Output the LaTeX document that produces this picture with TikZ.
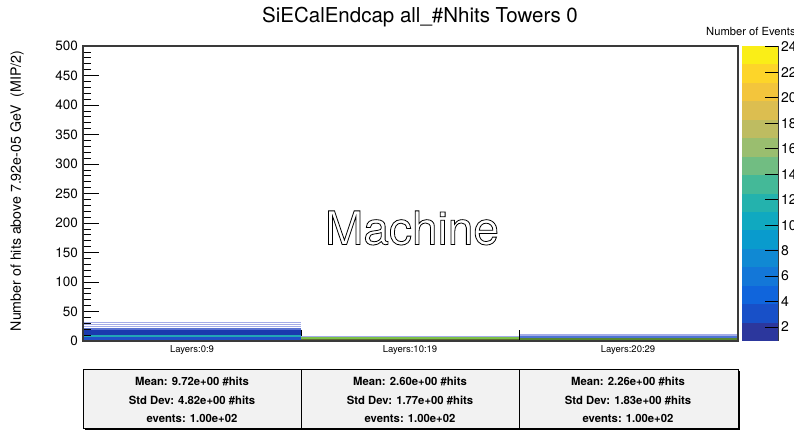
\documentclass[tikz,border=0pt]{standalone}
\usepackage{fontspec}
\setmainfont{TeX Gyre Heros}
\definecolor{frame}{HTML}{3A3A3A}
\definecolor{statfill}{HTML}{F2F2F2}
\definecolor{cb0}{rgb}{0.171,0.215,0.614}
\definecolor{cb1}{rgb}{0.096,0.312,0.784}
\definecolor{cb2}{rgb}{0.064,0.396,0.861}
\definecolor{cb3}{rgb}{0.073,0.468,0.846}
\definecolor{cb4}{rgb}{0.064,0.539,0.827}
\definecolor{cb5}{rgb}{0.037,0.607,0.803}
\definecolor{cb6}{rgb}{0.062,0.661,0.754}
\definecolor{cb7}{rgb}{0.141,0.699,0.680}
\definecolor{cb8}{rgb}{0.268,0.726,0.598}
\definecolor{cb9}{rgb}{0.443,0.741,0.510}
\definecolor{cb10}{rgb}{0.602,0.745,0.437}
\definecolor{cb11}{rgb}{0.746,0.737,0.379}
\definecolor{cb12}{rgb}{0.863,0.746,0.312}
\definecolor{cb13}{rgb}{0.951,0.773,0.235}
\definecolor{cb14}{rgb}{0.991,0.835,0.161}
\definecolor{cb15}{rgb}{0.981,0.934,0.089}
\definecolor{bdark}{HTML}{28308E}
\definecolor{bblue}{HTML}{1F50C8}
\definecolor{bteal}{HTML}{22A6B6}
\definecolor{bnavy}{HTML}{1A3AAE}
\definecolor{bmid}{HTML}{5A72D2}
\definecolor{blight}{HTML}{A4ACE8}
\definecolor{bgreen}{HTML}{7CC048}
\definecolor{bolive}{HTML}{5A6A30}
\tikzset{
  axisline/.style={draw=frame, line width=1.1pt},
  tickline/.style={draw=black, line width=0.8pt},
  ticklab/.style={font=\fontsize{13.5}{15}\selectfont, anchor=east, inner sep=0pt},
  binlab/.style={font=\fontsize{9.5}{11}\selectfont, inner sep=0pt},
  cblab/.style={font=\fontsize{14}{16}\selectfont, anchor=west, inner sep=0pt},
  stattext/.style={font=\bfseries\fontsize{11.3}{13}\selectfont, inner sep=0pt},
  statbox/.style={draw=black, line width=0.8pt, fill=statfill}
}
\begin{document}
\begin{tikzpicture}[x=1pt,y=-1pt]
\useasboundingbox (0,0) rectangle (794,433);
\fill[white] (0,0) rectangle (794,433);
% title
\node[font=\fontsize{20.5}{24}\selectfont, inner sep=0pt] (title) at (420,17) {SiECalEndcap all\_\#Nhits Towers 0};
% bars bin 1
\fill[bdark]  (83,339.5) rectangle (301,341);
\fill[bblue]  (83,337) rectangle (301,339.5);
\fill[bteal]  (83,335) rectangle (301,337);
\fill[bnavy]  (83,329.5) rectangle (301,335);
\fill[bmid]   (83,327.5) rectangle (301,329.5);
\fill[blight] (83,326) rectangle (301,327);
\fill[blight] (83,324) rectangle (301,325);
\fill[blight] (83,322.3) rectangle (301,323.2);
\draw[black, line width=0.8pt] (301,329.5) -- (301,341);
% bars bin 2
\fill[blight] (301,335.5) rectangle (519,337);
\fill[bgreen] (301,337) rectangle (519,339);
\fill[bolive] (301,339) rectangle (519,341);
% bars bin 3
\fill[blight] (519,333.5) rectangle (738,335.5);
\fill[bblue!80] (519,335.5) rectangle (738,338);
\fill[bgreen!70!black] (519,338) rectangle (738,339.5);
\fill[bolive] (519,339.5) rectangle (738,341);
\draw[black, line width=0.8pt] (519,330) -- (519,341);
% y ticks
\foreach \v in {0,10,...,500}{
  \pgfmathsetmacro{\yy}{341-\v*0.59}
  \pgfmathtruncatemacro{\m}{mod(\v,50)}
  \ifnum\m=0
    \draw[tickline] (83,\yy) -- (99,\yy);
  \else
    \draw[tickline] (83,\yy) -- (91,\yy);
  \fi
}
\foreach \v in {0,50,...,500}{
  \pgfmathsetmacro{\yy}{341-\v*0.59}
  \node[ticklab] (yl\v) at (78,\yy) {\v};
}
% frame
\draw[axisline] (83,46) rectangle (738,341);
% y axis title
\node[font=\fontsize{14.2}{16}\selectfont, rotate=90, inner sep=0pt] (ytitle) at (17,191) {Number of hits above 7.92e-05 GeV\ \ (MIP/2)};
% bin labels
\node[binlab] (b1) at (192,350) {Layers:0:9};
\node[binlab] (b2) at (410,350) {Layers:10:19};
\node[binlab] (b3) at (628,350) {Layers:20:29};
% watermark
\node[font=\fontsize{46}{50}\selectfont, inner sep=0pt] (mach) at (412,228)
  {\special{pdf:literal direct 1 Tr 0.8 w}Machine\special{pdf:literal direct 0 Tr}};
% colour bar
\foreach \k in {0,...,15}{
  \pgfmathsetmacro{\ya}{341-\k*295/16}
  \pgfmathsetmacro{\yb}{341-(\k+1)*295/16}
  \fill[cb\k] (742,\ya) rectangle (778,\yb);
}
\draw[frame, line width=1pt] (778,46) -- (778,341);
\foreach \v in {2,4,...,24}{
  \pgfmathsetmacro{\yy}{341-(\v-0.9)*12.73}
  \draw[black, line width=1pt] (778,\yy) -- (765,\yy);
  \node[cblab] (cl\v) at (781,\yy) {\v};
}
\node[font=\fontsize{11.2}{13}\selectfont, anchor=west, inner sep=0pt] (cbtitle) at (706,31) {Number of Events};
% stats boxes
\fill[black] (85,371) rectangle (740,430);
\draw[statbox] (83,369) rectangle (738,428);
\draw[black, line width=0.8pt] (301,369) -- (301,428);
\draw[black, line width=0.8pt] (519,369) -- (519,428);
\node[stattext] (m1) at (192,381) {Mean: 9.72e+00 \#hits};
\node[stattext] (s1) at (192,400) {Std Dev: 4.82e+00 \#hits};
\node[stattext] (e1) at (192,418) {events: 1.00e+02};
\node[stattext] (m2) at (410,381) {Mean: 2.60e+00 \#hits};
\node[stattext] (s2) at (410,400) {Std Dev: 1.77e+00 \#hits};
\node[stattext] (e2) at (410,418) {events: 1.00e+02};
\node[stattext] (m3) at (628,381) {Mean: 2.26e+00 \#hits};
\node[stattext] (s3) at (628,400) {Std Dev: 1.83e+00 \#hits};
\node[stattext] (e3) at (628,418) {events: 1.00e+02};
\end{tikzpicture}
\end{document}
